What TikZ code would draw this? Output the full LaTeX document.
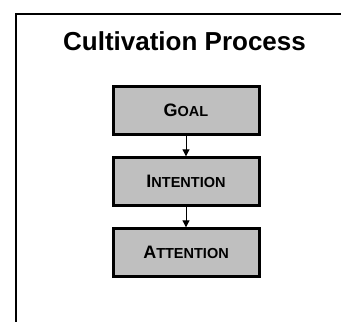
\documentclass[tikz,border=0pt]{standalone}
\usepackage{fontspec}
\setmainfont{Liberation Sans}
\usetikzlibrary{positioning,arrows.meta}
\newcommand\fakecaps[2]{{\fontsize{18}{20}\selectfont #1}{\fontsize{14.5}{16}\selectfont #2}}
\begin{document}
\begin{tikzpicture}[x=1pt,y=-1pt,
  stagebox/.style={draw, line width=3pt, fill=gray!50, minimum width=146pt,
    minimum height=48pt, inner sep=0pt, font=\bfseries},
  flow/.style={line width=1pt, -{Triangle[length=7pt,width=7pt]}}]
    \useasboundingbox (0,0) rectangle (341,322);
    \clip (0,0) rectangle (341,322);

    % Frame
    \draw [line width=2pt] (16,340) |- (360,14.3);

    % Title
    \node [anchor=base, font=\bfseries\fontsize{26}{30}\selectfont] (title)
          at (184.5,50.7) {Cultivation Process};

    % Stages
    \node [stagebox] (goal) at (186,110.8) {\fakecaps{G}{OAL}};
    \node [stagebox, below=20pt of goal] (intention) {\fakecaps{I}{NTENTION}};
    \node [stagebox, below=20pt of intention] (attention) {\fakecaps{A}{TTENTION}};

    % Connections
    \foreach \a/\b in {goal/intention, intention/attention} {
        \draw [flow] (\a) -- (\b);
    }
\end{tikzpicture}
\end{document}
